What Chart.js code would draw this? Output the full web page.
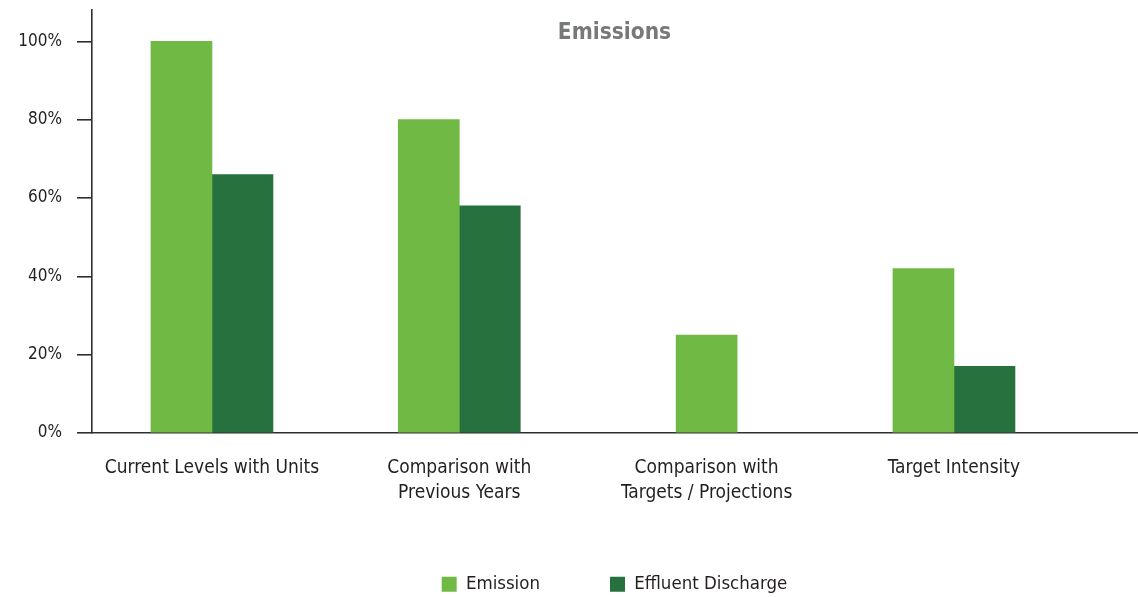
<!DOCTYPE html>
<html>
<head>
<meta charset="utf-8">
<title>Emissions</title>
<script src="https://cdn.jsdelivr.net/npm/chart.js@4/dist/chart.umd.min.js"></script>
<style>
  html, body { margin: 0; padding: 0; background: #fff; }
  #wrap { width: 1138px; height: 597px; }
</style>
</head>
<body>
<div id="wrap"><canvas id="emissionsChart" width="1138" height="597"></canvas></div>
<script>
// Emissions vs effluent discharge, grouped bars
const categories = [
  ['Current Levels with Units'],
  ['Comparison with', 'Previous Years'],
  ['Comparison with', 'Targets / Projections'],
  ['Target Intensity']
];
const emission = [100, 80, 25, 42];
const effluent = [66, 58, null, 17];
const yTicks = [0, 20, 40, 60, 80, 100];

const FONT = "'DejaVu Sans Condensed', 'DejaVu Sans', sans-serif";
const INK = '#231f20';
const AXIS = '#2e2e2e';

const toPoints = arr => arr.map((v, i) => ({ x: i, y: v }));

new Chart(document.getElementById('emissionsChart').getContext('2d'), {
  type: 'bar',
  data: {
    datasets: [
      { label: 'Emission', data: toPoints(emission), backgroundColor: '#70b944' },
      { label: 'Effluent Discharge', data: toPoints(effluent), backgroundColor: '#26713d' }
    ]
  },
  options: {
    responsive: false,
    animation: false,
    skipNull: true,
    barThickness: 61,
    layout: { padding: { left: 0, right: 1, top: 0, bottom: 0 } },
    plugins: {
      title: {
        display: true,
        fullSize: false,
        text: 'Emissions',
        color: '#76787a',
        font: { family: FONT, size: 22.5, weight: 'bold' },
        padding: { top: 20, bottom: -37 }
      },
      legend: {
        position: 'bottom',
        fullSize: false,
        maxHeight: 92,
        labels: {
          boxWidth: 15,
          boxHeight: 15,
          padding: 70,
          color: INK,
          font: { family: FONT, size: 18.5 }
        }
      },
      tooltip: { enabled: false }
    },
    scales: {
      x: {
        type: 'linear',
        offset: false,
        min: -0.485,
        max: 3.74,
        afterBuildTicks: s => { s.ticks = categories.map((_, i) => ({ value: i })); },
        afterFit: s => { s.height = 72; s.paddingLeft = 0; s.paddingRight = 0; },
        grid: { display: true, drawOnChartArea: false, drawTicks: false },
        border: { display: true, color: AXIS, width: 1.6 },
        ticks: {
          autoSkip: false,
          maxRotation: 0,
          padding: 22.6,
          color: INK,
          font: { family: FONT, size: 19, lineHeight: 1.3 },
          callback: v => categories[v]
        }
      },
      y: {
        min: 0,
        max: 108,
        afterBuildTicks: s => { s.ticks = yTicks.map(v => ({ value: v })); },
        afterFit: s => { s.width = 92; s.paddingTop = 0; s.paddingBottom = 0; },
        grid: { drawOnChartArea: false, drawTicks: true, tickLength: 15, color: AXIS, lineWidth: 1.6 },
        border: { display: true, color: AXIS, width: 1.6 },
        ticks: {
          padding: 15,
          color: INK,
          font: { family: FONT, size: 17 },
          callback: v => v + '%'
        }
      }
    }
  }
});
</script>
</body>
</html>
